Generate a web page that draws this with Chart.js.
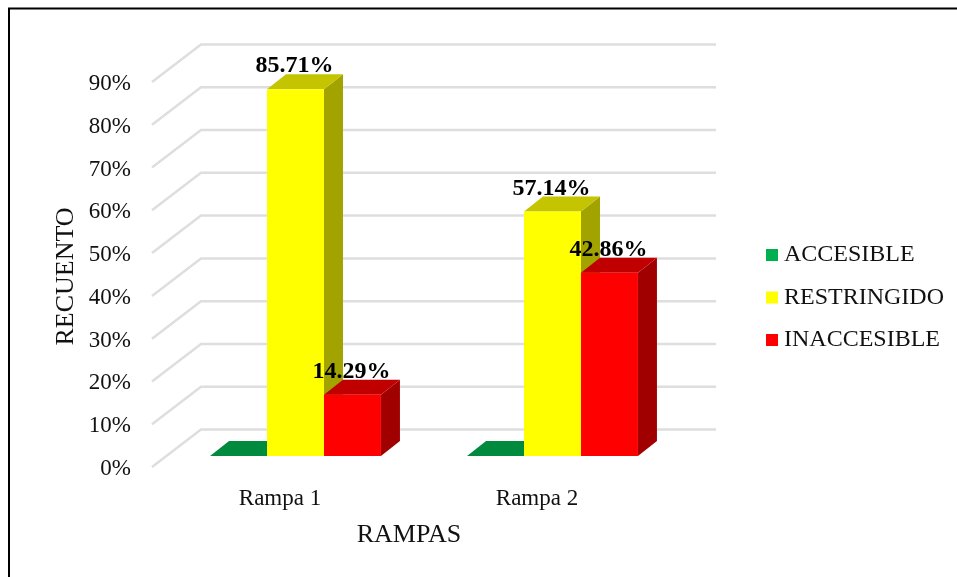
<!DOCTYPE html>
<html>
<head>
<meta charset="utf-8">
<title>Rampas</title>
<script src="https://cdn.jsdelivr.net/npm/chart.js@4"></script>
<style>
  html, body { margin: 0; padding: 0; background: #fff; }
  canvas { display: block; }
</style>
</head>
<body>
<canvas id="rampasChart" width="957" height="577"></canvas>
<script>
const categories = ["Rampa 1", "Rampa 2"];
const accesible = [0, 0];
const restringido = [85.71, 57.14];
const inaccesible = [14.29, 42.86];
const tickValues = [0, 10, 20, 30, 40, 50, 60, 70, 80, 90];

const frontColors = ["#00B050", "#FFFF00", "#FF0000"];
const topColors = ["#008A3E", "#C4C400", "#C00000"];
const sideColors = ["#008A3E", "#A3A300", "#A00000"];

const fontName = "'Liberation Serif', 'Times New Roman', serif";

// profundidade das barras e do chão (efeito 3D)
const barDepth = { x: 19, y: 15 };
const floorDepth = { x: 49, y: 37.5 };
const floorLeftGap = 15; // chão começa à esquerda da área do gráfico
const floorRaise = 2; // as etiquetas do eixo ficam um pouco abaixo das linhas
const gridRight = 716;

function face(ctx, pts, color) {
  ctx.fillStyle = color;
  ctx.beginPath();
  pts.forEach((p, i) => i ? ctx.lineTo(p[0], p[1]) : ctx.moveTo(p[0], p[1]));
  ctx.closePath();
  ctx.fill();
}

const depthPlugin = {
  id: "depth",
  beforeDatasetsDraw(chart) {
    const ctx = chart.ctx;
    const area = chart.chartArea;
    const axis = chart.scales.yTicks;

    // moldura: só em cima e à esquerda
    ctx.save();
    ctx.strokeStyle = "#000";
    ctx.lineWidth = 2;
    ctx.beginPath();
    ctx.moveTo(9, 577);
    ctx.lineTo(9, 8.5);
    ctx.lineTo(957, 8.5);
    ctx.stroke();

    // linhas de grelha: parede do fundo e lado esquerdo
    ctx.strokeStyle = "#DEDEDE";
    ctx.lineWidth = 2.5;
    tickValues.forEach(v => {
      const y = axis.getPixelForValue(v) - floorRaise;
      const x0 = area.left - floorLeftGap;
      ctx.beginPath();
      ctx.moveTo(x0, y);
      ctx.lineTo(x0 + floorDepth.x, y - floorDepth.y);
      ctx.lineTo(gridRight, y - floorDepth.y);
      ctx.stroke();
    });

    // faces de cima e do lado, por baixo das frentes desenhadas pela biblioteca
    categories.forEach((c, i) => {
      chart.data.datasets.forEach((ds, d) => {
        const bar = chart.getDatasetMeta(d).data[i];
        const l = bar.x - bar.width / 2;
        const r = bar.x + bar.width / 2;
        const dx = barDepth.x;
        const dy = barDepth.y;
        if (bar.base - bar.y > 0) {
          face(ctx, [[r, bar.y], [r + dx, bar.y - dy], [r + dx, bar.base - dy], [r, bar.base]], sideColors[d]);
        }
        face(ctx, [[l, bar.y], [r, bar.y], [r + dx, bar.y - dy], [l + dx, bar.y - dy]], topColors[d]);
      });
    });
    ctx.restore();
  },
  afterDatasetsDraw(chart) {
    const ctx = chart.ctx;
    ctx.save();

    // etiquetas de valor
    ctx.fillStyle = "#000";
    ctx.font = "bold 24px " + fontName;
    ctx.textAlign = "center";
    ctx.textBaseline = "alphabetic";
    chart.data.datasets.forEach((ds, d) => {
      chart.getDatasetMeta(d).data.forEach((bar, i) => {
        if (ds.data[i] > 0) {
          ctx.fillText(ds.data[i].toFixed(2) + "%", bar.x - 1, bar.y - 17);
        }
      });
    });

    // título do eixo x
    ctx.font = "26px " + fontName;
    ctx.textBaseline = "middle";
    ctx.fillStyle = "#111";
    ctx.fillText("RAMPAS", 409, 535);

    // legenda
    ctx.font = "24px " + fontName;
    ctx.textAlign = "left";
    chart.data.datasets.forEach((ds, d) => {
      const y = 255 + d * 42.5;
      ctx.fillStyle = frontColors[d];
      ctx.fillRect(766, y - 6, 12, 12);
      ctx.fillStyle = "#111";
      ctx.fillText(ds.label, 784, y);
    });
    ctx.restore();
  }
};

new Chart(document.getElementById("rampasChart"), {
  type: "bar",
  plugins: [depthPlugin],
  data: {
    labels: categories,
    datasets: [
      { label: "ACCESIBLE", data: accesible, backgroundColor: frontColors[0], yAxisID: "y" },
      { label: "RESTRINGIDO", data: restringido, backgroundColor: frontColors[1], yAxisID: "y" },
      { label: "INACCESIBLE", data: inaccesible, backgroundColor: frontColors[2], yAxisID: "y" }
    ]
  },
  options: {
    responsive: false,
    animation: false,
    layout: {
      autoPadding: false,
      padding: { left: 51, right: 276, top: 84, bottom: 0 }
    },
    datasets: {
      bar: { categoryPercentage: 0.665, barPercentage: 1 }
    },
    plugins: {
      legend: { display: false },
      tooltip: { enabled: false }
    },
    scales: {
      x: {
        grid: { display: false, drawTicks: false },
        border: { display: false },
        afterFit: scale => { scale.height = 108; },
        ticks: {
          color: "#111",
          padding: 16,
          labelOffset: -15.5,
          maxRotation: 0,
          font: { family: fontName, size: 23 }
        }
      },
      // eixo das barras: plano a meio do chão, por isso começa abaixo de 0
      y: {
        display: false,
        min: -3.04,
        max: 86.96
      },
      // eixo visível: plano da frente do chão
      yTicks: {
        axis: "y",
        position: "left",
        min: 0,
        max: 90,
        afterFit: scale => { scale.width = 116; },
        afterBuildTicks: scale => { scale.ticks = tickValues.map(v => ({ value: v })); },
        grid: { display: false, drawTicks: false },
        border: { display: false },
        title: {
          display: true,
          text: "RECUENTO",
          color: "#111",
          padding: { top: 0, bottom: 0 },
          font: { family: fontName, size: 26 }
        },
        ticks: {
          color: "#111",
          padding: 36,
          font: { family: fontName, size: 23 },
          callback: value => value + "%"
        }
      }
    }
  }
});
</script>
</body>
</html>
